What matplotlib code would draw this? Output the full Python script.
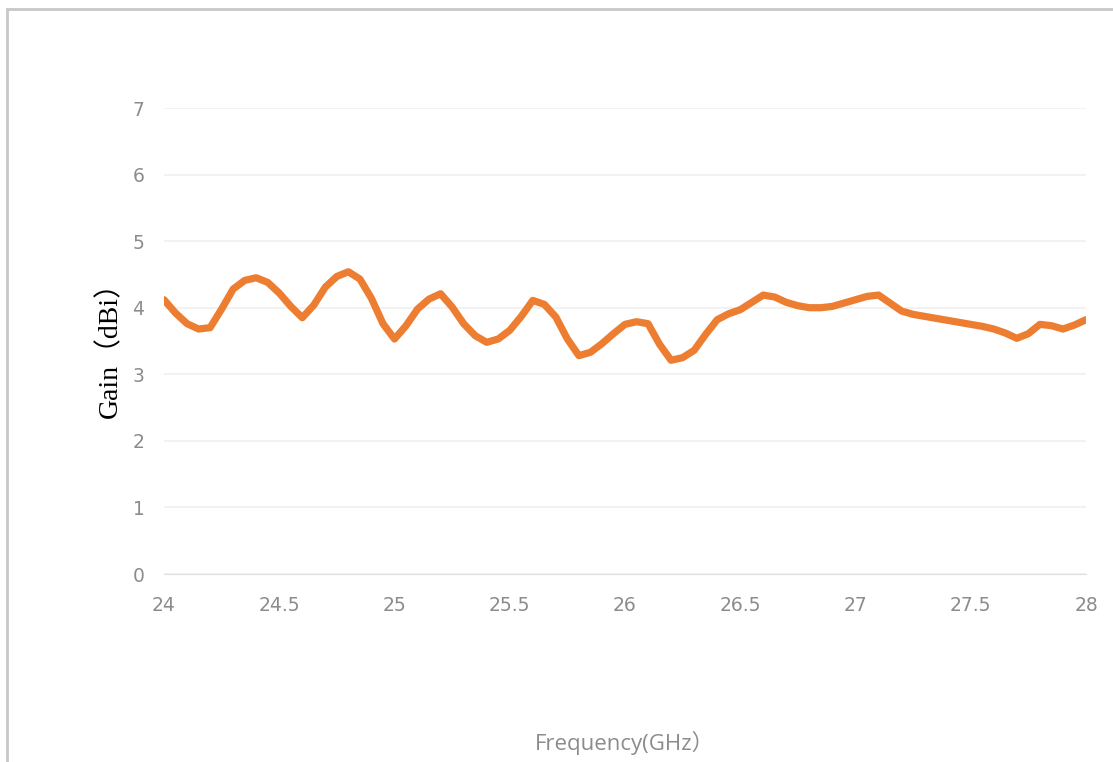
import numpy as np
import matplotlib
matplotlib.use("Agg")
import matplotlib.pyplot as plt
from matplotlib.patches import Rectangle

# frequency (GHz) and gain (dBi)
freq = [24.00, 24.05, 24.10, 24.15, 24.20, 24.25, 24.30, 24.35, 24.40, 24.45,
        24.50, 24.55, 24.60, 24.65, 24.70, 24.75, 24.80, 24.85, 24.90, 24.95,
        25.00, 25.05, 25.10, 25.15, 25.20, 25.25, 25.30, 25.35, 25.40, 25.45,
        25.50, 25.55, 25.60, 25.65, 25.70, 25.75, 25.80, 25.85, 25.90, 25.95,
        26.00, 26.05, 26.10, 26.15, 26.20, 26.25, 26.30, 26.35, 26.40, 26.45,
        26.50, 26.55, 26.60, 26.65, 26.70, 26.75, 26.80, 26.85, 26.90, 26.95,
        27.00, 27.05, 27.10, 27.15, 27.20, 27.25, 27.30, 27.35, 27.40, 27.45,
        27.50, 27.55, 27.60, 27.65, 27.70, 27.75, 27.80, 27.85, 27.90, 27.95,
        28.00]
gain = [4.12, 3.92, 3.76, 3.68, 3.70, 3.98, 4.28, 4.41, 4.45, 4.38,
        4.22, 4.02, 3.85, 4.04, 4.31, 4.47, 4.54, 4.43, 4.14, 3.76,
        3.53, 3.73, 3.98, 4.13, 4.21, 4.01, 3.76, 3.58, 3.48, 3.53,
        3.66, 3.87, 4.11, 4.05, 3.86, 3.53, 3.28, 3.33, 3.46, 3.61,
        3.75, 3.79, 3.76, 3.45, 3.21, 3.25, 3.36, 3.60, 3.82, 3.91,
        3.97, 4.08, 4.19, 4.16, 4.08, 4.03, 4.00, 4.00, 4.02, 4.07,
        4.12, 4.17, 4.19, 4.07, 3.95, 3.90, 3.87, 3.84, 3.81, 3.78,
        3.75, 3.72, 3.68, 3.62, 3.54, 3.61, 3.75, 3.73, 3.68, 3.74,
        3.82]

xticks = [24, 24.5, 25, 25.5, 26, 26.5, 27, 27.5, 28]
xticklabels = ['24', '24.5', '25', '25.5', '26', '26.5', '27', '27.5', '28']
yticks = [0, 1, 2, 3, 4, 5, 6, 7]

fig = plt.figure(figsize=(11.13, 7.62), dpi=100)
fig.patches.append(Rectangle((7/1113, -0.1), 1.2, 1 - 9/762 + 0.1,
                             transform=fig.transFigure, fill=False,
                             edgecolor='#c8c8c8', linewidth=2.0))

ax = fig.add_axes([164/1113, 1 - 574/762, (1086 - 164)/1113, (574 - 108)/762])
ax.plot(freq, gain, color='#ED7D31', linewidth=5.2, solid_capstyle='round',
        solid_joinstyle='round')

ax.set_xlim(24, 28)
ax.set_ylim(0, 7)
ax.set_xticks(xticks)
ax.set_xticklabels(xticklabels)
ax.set_yticks(yticks)
ax.grid(axis='y', color='#f0f0f0', linewidth=1.2)
ax.set_axisbelow(True)
for s in ['top', 'right', 'left']:
    ax.spines[s].set_visible(False)
ax.spines['bottom'].set_color('#e0e0e0')
ax.tick_params(length=0, labelsize=13.5, labelcolor='#8c8c8c')
ax.tick_params(axis='x', pad=16)
ax.tick_params(axis='y', pad=14)

fig.text(110/1113, 1 - 343/762, 'Gain（dBi）', rotation=90, ha='center',
         va='center', fontsize=20, color='black',
         family=['Liberation Serif', 'Noto Sans CJK SC'])
fig.text(625/1113, 1 - 743/762, 'Frequency(GHz）', ha='center', va='center',
         fontsize=16, color='#8c8c8c',
         family=['Open Sans', 'Noto Sans CJK SC'])

plt.savefig('out.png', dpi=100)
